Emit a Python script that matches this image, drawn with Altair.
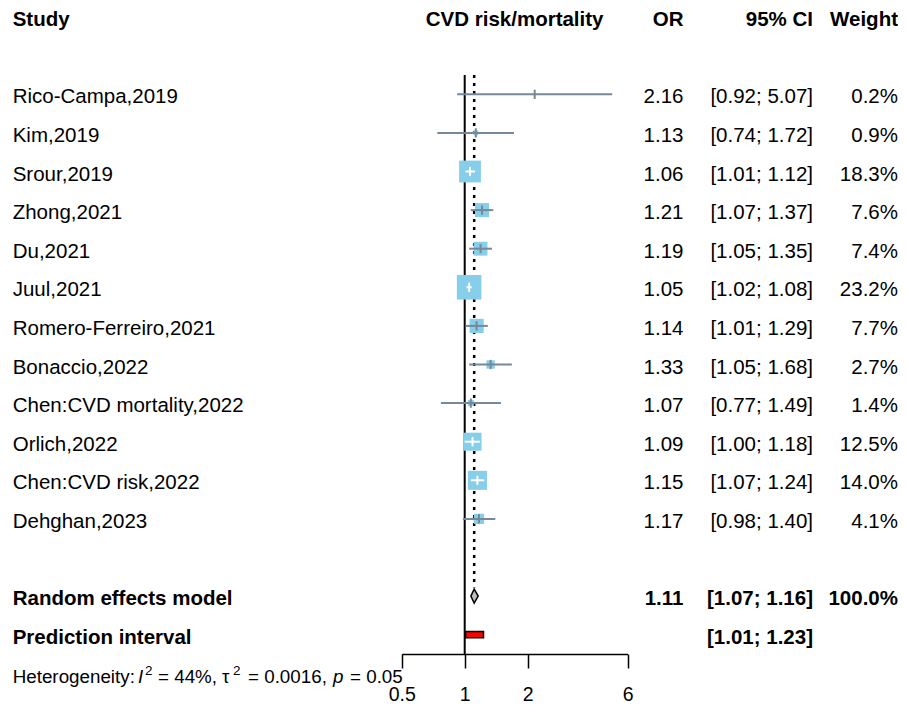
import altair as alt
import pandas as pd
import numpy as np

FONT = "Liberation Sans"

studies = ["Rico-Campa,2019", "Kim,2019", "Srour,2019", "Zhong,2021", "Du,2021",
           "Juul,2021", "Romero-Ferreiro,2021", "Bonaccio,2022",
           "Chen:CVD mortality,2022", "Orlich,2022", "Chen:CVD risk,2022", "Dehghan,2023"]
or_vals = [2.16, 1.13, 1.06, 1.21, 1.19, 1.05, 1.14, 1.33, 1.07, 1.09, 1.15, 1.17]
ci_low = [0.92, 0.74, 1.01, 1.07, 1.05, 1.02, 1.01, 1.05, 0.77, 1.00, 1.07, 0.98]
ci_high = [5.07, 1.72, 1.12, 1.37, 1.35, 1.08, 1.29, 1.68, 1.49, 1.18, 1.24, 1.40]
weights = [0.2, 0.9, 18.3, 7.6, 7.4, 23.2, 7.7, 2.7, 1.4, 12.5, 14.0, 4.1]

re_or, re_lo, re_hi = 1.11, 1.07, 1.16
pi_lo, pi_hi = 1.01, 1.23
tick_values = [0.5, 1, 2, 6]

n = len(studies)
rows = list(range(1, n + 1))
re_row = n + 2
pi_row = n + 3
het_row = n + 4

# layout constants
PX_PER_LOG2 = 63.0
SIDE_PER_SQRT = 5.1
x0, x1 = 393.7, 393.7 + PX_PER_LOG2 * np.log2(6 / 0.5)
xscale = alt.Scale(type="log", domain=[0.5, 6], range=[x0, x1], nice=False)
yscale = alt.Scale(domain=[-1, 15], range=[9.1, 626.7], nice=False, zero=False)
xaxis = alt.Axis(values=tick_values, format="~g", title=None, grid=False,
                 domainColor="black", domainWidth=1.5, tickColor="black", tickWidth=1.5,
                 tickSize=14, labelFontSize=19.5, labelFont=FONT, labelColor="black",
                 labelPadding=17, labelFlush=False, labelOverlap=False)

half_side = [SIDE_PER_SQRT * np.sqrt(w) / 2 for w in weights]
inside = [bool(PX_PER_LOG2 * np.log2(o / l) <= hs and PX_PER_LOG2 * np.log2(h / o) <= hs)
          for o, l, h, hs in zip(or_vals, ci_low, ci_high, half_side)]

df = pd.DataFrame({
    "study": studies, "or": or_vals, "lo": ci_low, "hi": ci_high, "w": weights,
    "row": rows, "inside": inside,
    "or_txt": [f"{v:.2f}" for v in or_vals],
    "ci_txt": [f"[{l:.2f}; {h:.2f}]" for l, h in zip(ci_low, ci_high)],
    "w_txt": [f"{w:.1f}%" for w in weights],
})

summ = pd.DataFrame({
    "label": ["Random effects model", "Prediction interval"],
    "row": [re_row, pi_row],
    "or_txt": [f"{re_or:.2f}", ""],
    "ci_txt": [f"[{re_lo:.2f}; {re_hi:.2f}]", f"[{pi_lo:.2f}; {pi_hi:.2f}]"],
    "w_txt": ["100.0%", ""],
})

head = pd.DataFrame({"row": [-1], "study": ["Study"], "mid": ["CVD risk/mortality"],
                     "or": ["OR"], "ci": ["95% CI"], "w": ["Weight"]})

Y = alt.Y("row:Q", scale=yscale, axis=None)

def txt(data, field, x, align="left", bold=False, size=20.5, italic=False, dy=9):
    return alt.Chart(data).mark_text(
        align=align, baseline="alphabetic", dy=dy, fontSize=size, font=FONT,
        fontWeight="bold" if bold else "normal",
        fontStyle="italic" if italic else "normal", color="black"
    ).encode(x=alt.value(x), y=Y, text=alt.Text(f"{field}:N"))

# reference line at OR = 1
ref = pd.DataFrame({"x": [1.0], "y": [0.5], "y2": [15.5]})
ref_line = alt.Chart(ref).mark_rule(color="black", strokeWidth=2).encode(
    x=alt.X("x:Q", scale=xscale, axis=xaxis),
    y=alt.Y("y:Q", scale=yscale, axis=None), y2="y2:Q")

summ_line_df = pd.DataFrame({"x": [re_or], "y": [0.5], "y2": [re_row - 0.22]})
summ_line = alt.Chart(summ_line_df).mark_rule(color="black", strokeWidth=2.5,
                                              strokeDash=[3, 5]).encode(
    x=alt.X("x:Q", scale=xscale, axis=xaxis),
    y=alt.Y("y:Q", scale=yscale, axis=None), y2="y2:Q")

max_w = max(weights)
squares = alt.Chart(df).mark_square(color="#87CEEB", opacity=1).encode(
    x=alt.X("or:Q", scale=xscale, axis=xaxis), y=Y,
    size=alt.Size("w:Q", scale=alt.Scale(type="linear", domain=[0, max_w],
                                         range=[0, SIDE_PER_SQRT ** 2 * max_w]), legend=None))

line_color = alt.condition("datum.inside", alt.value("white"), alt.value("#778899"))
ci_lines = alt.Chart(df).mark_rule(strokeWidth=2).encode(
    x=alt.X("lo:Q", scale=xscale, axis=xaxis), x2="hi:Q", y=Y, color=line_color)

est_ticks = alt.Chart(df).transform_calculate(
    y0="datum.row - 0.12", y1="datum.row + 0.12"
).mark_rule(strokeWidth=2).encode(
    x=alt.X("or:Q", scale=xscale, axis=xaxis),
    y=alt.Y("y0:Q", scale=yscale, axis=None), y2="y1:Q", color=line_color)

dia = pd.DataFrame({"x": [re_lo, re_or, re_hi], "h": [0.0, 0.18, 0.0], "row": [re_row] * 3})
diamond = alt.Chart(dia).transform_calculate(
    ya="datum.row - datum.h", yb="datum.row + datum.h"
).mark_area(color="#BEBEBE", stroke="black", strokeWidth=1.5, fillOpacity=1).encode(
    x=alt.X("x:Q", scale=xscale, axis=xaxis),
    y=alt.Y("ya:Q", scale=yscale, axis=None), y2="yb:Q")

pi_df = pd.DataFrame({"lo": [pi_lo], "hi": [pi_hi], "row": [pi_row]})
pi_rect = alt.Chart(pi_df).transform_calculate(
    ya="datum.row - 0.08", yb="datum.row + 0.08"
).mark_rect(color="red", stroke="black", strokeWidth=1.5).encode(
    x=alt.X("lo:Q", scale=xscale, axis=xaxis), x2="hi:Q",
    y=alt.Y("ya:Q", scale=yscale, axis=None), y2="yb:Q")

X_STUDY, X_OR, X_CI, X_W = 4.7, 675.5, 805, 890
X_MID = (x0 + x1) / 2

texts = [
    txt(head, "study", X_STUDY, bold=True),
    txt(head, "mid", X_MID, align="center", bold=True),
    txt(head, "or", X_OR, align="right", bold=True),
    txt(head, "ci", X_CI, align="right", bold=True),
    txt(head, "w", X_W, align="right", bold=True),
    txt(df, "study", X_STUDY),
    txt(df, "or_txt", X_OR, align="right"),
    txt(df, "ci_txt", X_CI, align="right"),
    txt(df, "w_txt", X_W, align="right"),
    txt(summ, "label", X_STUDY, bold=True),
    txt(summ, "or_txt", X_OR, align="right", bold=True),
    txt(summ, "ci_txt", X_CI, align="right", bold=True),
    txt(summ, "w_txt", X_W, align="right", bold=True),
]

het = pd.DataFrame({"row": [het_row], "a": ["Heterogeneity:"], "i": ["I"], "two": ["2"],
                    "b": ["= 44%,"], "tau": ["\u03c4"], "c": ["= 0.0016,"], "p": ["p"],
                    "d": ["= 0.05"]})
HS = 18.8
het_layers = [
    txt(het, "a", 4.7, size=HS, dy=10),
    txt(het, "i", 130, size=HS, italic=True, dy=10),
    txt(het, "two", 137, size=13.5, dy=2),
    txt(het, "b", 150, size=HS, dy=10),
    txt(het, "tau", 214, size=HS, dy=10),
    txt(het, "two", 225, size=13.5, dy=2),
    txt(het, "c", 240, size=HS, dy=10),
    txt(het, "p", 325, size=HS, italic=True, dy=10),
    txt(het, "d", 342, size=HS, dy=10),
]

chart = alt.layer(ref_line, summ_line, squares, ci_lines, est_ticks, diamond, pi_rect,
                  *texts, *het_layers).properties(
    width=890, height=646, padding=0
).configure_view(stroke=None)

chart.save("out.html", embed_options={"renderer": "svg", "actions": False})
